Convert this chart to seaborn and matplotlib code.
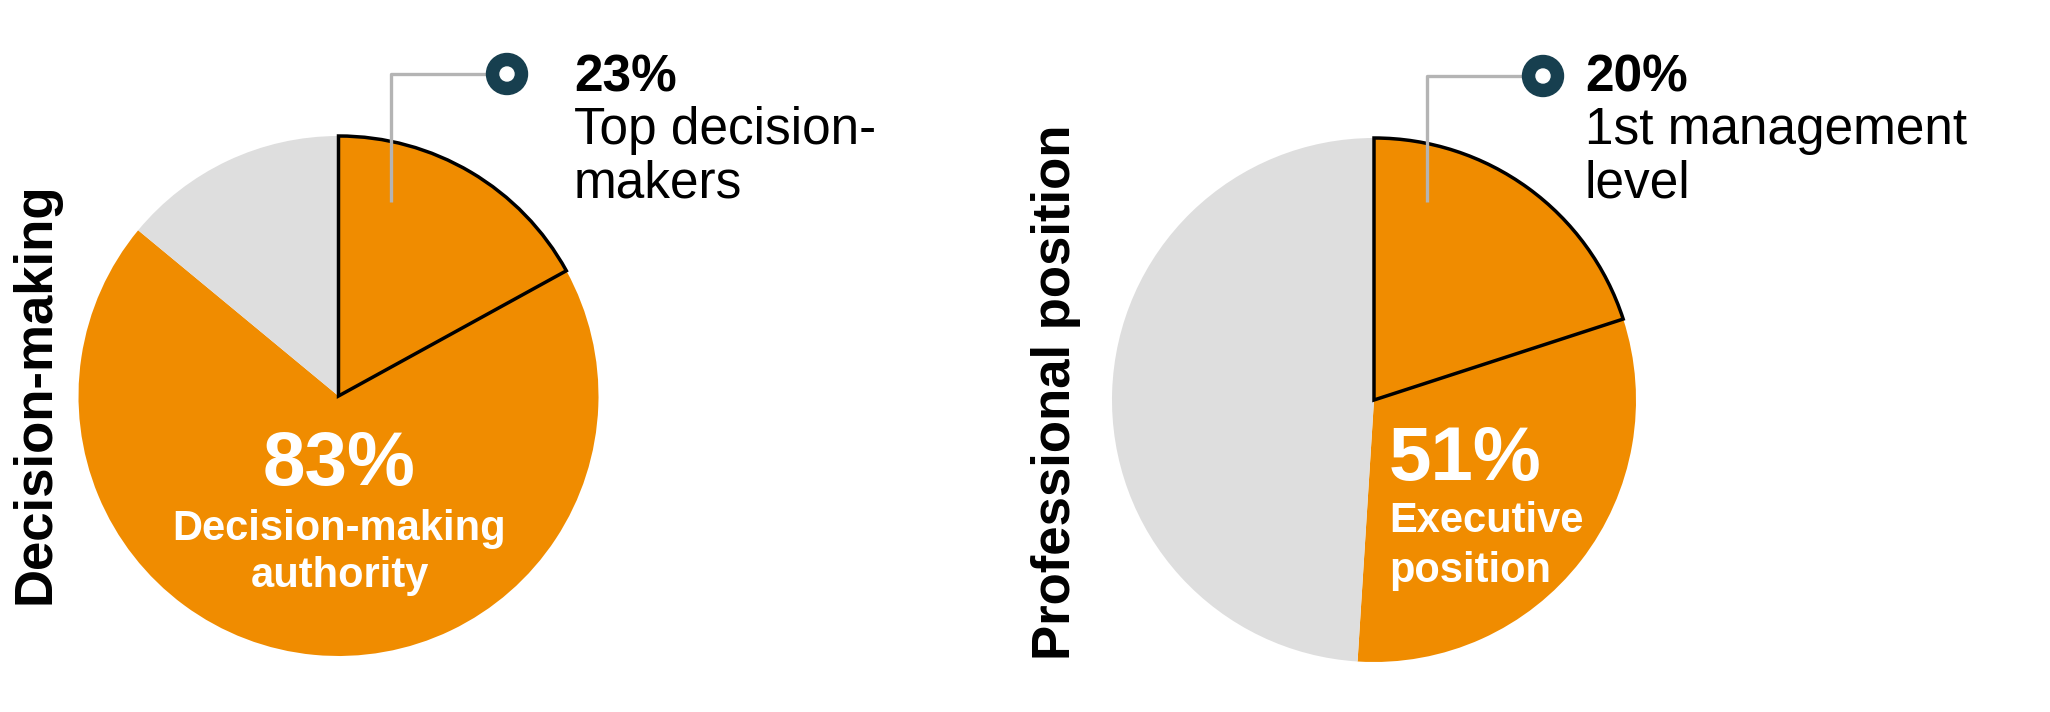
import matplotlib

matplotlib.use("Agg")
import matplotlib.patches as mpatches
import matplotlib.pyplot as plt
import seaborn as sns

# slice shares as drawn in the picture: outlined part, rest of orange, grey remainder
decision_shares = [17, 69, 14]
position_shares = [20, 31, 49]

decision_title = "Decision-making"
position_title = "Professional position"

decision_big = "83%"
decision_big_label = ["Decision-making", "authority"]
decision_callout_value = "23%"
decision_callout_label = ["Top decision-", "makers"]

position_big = "51%"
position_big_label = ["Executive", "position"]
position_callout_value = "20%"
position_callout_label = ["1st management", "level"]

ORANGE = "#F08C00"
GREY = "#DEDEDE"
TEAL = "#173F4F"
LEADER = "#B4B4B4"

W, H = 2050, 712


def up(y):
    # pixel rows are measured from the top, axes run bottom-up
    return H - y


def draw_pie(ax, shares, cx, cy, r):
    wedges, _ = ax.pie(
        shares,
        colors=[ORANGE, ORANGE, GREY],
        startangle=90,
        counterclock=False,
        center=(cx, up(cy)),
        radius=r,
        wedgeprops=dict(linewidth=0),
    )
    wedges[0].set_edgecolor("black")
    wedges[0].set_linewidth(2.5)
    wedges[0].set_joinstyle("miter")
    wedges[0].set_zorder(3)
    return wedges


def draw_callout(ax, x_line, y_tip, y_top, x_dot, x_text, value, label):
    ax.plot([x_line, x_line, x_dot], [up(y_tip), up(y_top), up(y_top)],
            color=LEADER, lw=2.4, zorder=4, solid_capstyle="butt")
    ax.add_patch(mpatches.Circle((x_dot, up(y_top)), 20.5, color=TEAL, zorder=5))
    ax.add_patch(mpatches.Circle((x_dot, up(y_top)), 7, color="white", zorder=6))
    ax.text(x_text, up(92), value, fontsize=37, fontweight="bold",
            color="black", va="baseline", ha="left")
    for line, base in zip(label, [144, 197]):
        ax.text(x_text, up(base), line, fontsize=37, color="black",
                va="baseline", ha="left")


sns.set_theme(style="white")
plt.rcParams["font.family"] = ["Liberation Sans", "DejaVu Sans"]

fig = plt.figure(figsize=(W / 100, H / 100), dpi=100)
ax = fig.add_axes([0, 0, 1, 1])

draw_pie(ax, decision_shares, 338.5, 396, 260)
draw_pie(ax, position_shares, 1374, 400, 262)

ax.set_xlim(0, W)
ax.set_ylim(0, H)
ax.set_aspect("equal")
ax.axis("off")

# callouts above the outlined wedges
draw_callout(ax, 391, 202, 74, 507, 574, decision_callout_value, decision_callout_label)
draw_callout(ax, 1427, 202, 76, 1543, 1585, position_callout_value, position_callout_label)

# white labels inside the pies
ax.text(339.5, up(485), decision_big, fontsize=55, fontweight="bold",
        color="white", ha="center", va="baseline", zorder=7)
for line, base in zip(decision_big_label, [540, 587]):
    ax.text(339.5, up(base), line, fontsize=30, fontweight="bold",
            color="white", ha="center", va="baseline", zorder=7)

ax.text(1389, up(480), position_big, fontsize=55, fontweight="bold",
        color="white", ha="left", va="baseline", zorder=7)
for line, base in zip(position_big_label, [532, 582]):
    ax.text(1389, up(base), line, fontsize=30, fontweight="bold",
            color="white", ha="left", va="baseline", zorder=7)

# vertical group titles
ax.text(50, up(393), decision_title, fontsize=38, fontweight="bold", color="black",
        rotation=90, rotation_mode="anchor", ha="center", va="baseline")
ax.text(1070, up(392), position_title, fontsize=38, fontweight="bold", color="black",
        rotation=90, rotation_mode="anchor", ha="center", va="baseline")

fig.savefig("out.png", dpi=100, facecolor="white")
plt.close(fig)
